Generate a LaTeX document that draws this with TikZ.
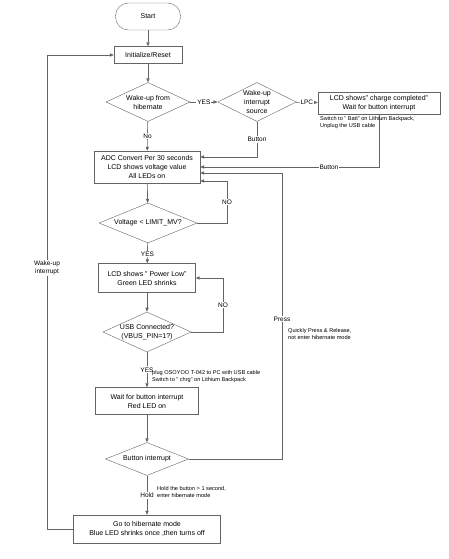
\documentclass[tikz,border=0pt]{standalone}
\usepackage{fontspec}
\setmainfont{Liberation Sans}
\usetikzlibrary{shapes.geometric,arrows.meta}
\definecolor{linegray}{RGB}{100,100,100}
\tikzset{
  proc/.style={draw=linegray,rectangle,inner sep=0pt,align=center,font=\fontsize{7}{9}\selectfont},
  cond/.style={draw=linegray,diamond,aspect=2.2,inner sep=0pt,align=center,font=\fontsize{7}{9}\selectfont},
  tag/.style={fill=white,inner sep=1pt,align=center,font=\fontsize{6.5}{8}\selectfont},
  remark/.style={anchor=north west,inner sep=0pt,align=left,font=\fontsize{5.6}{7}\selectfont},
  flow/.style={draw=linegray,line width=0.65pt,-{Triangle[length=4pt,width=3.2pt]}}
}
\begin{document}
\begin{tikzpicture}[x=1pt,y=-1pt]
\useasboundingbox (0,0) rectangle (449,559);
% boxes
\node[proc,rounded corners=13pt,minimum width=65pt,minimum height=27pt] (start) at (148,16.5) {Start};
\node[proc,minimum width=68pt,minimum height=17pt] (init) at (148,55) {Initialize/Reset};
\node[cond,minimum width=84pt,minimum height=39pt] (wake) at (148,102) {Wake-up from\\hibernate};
\node[cond,minimum width=69pt,minimum height=39pt] (src) at (257,102) {Wake-up\\interrupt\\source};
\node[proc,minimum width=122pt,minimum height=22pt] (lcd) at (379,103) {LCD shows" charge completed"\\Wait for button interrupt};
\node[proc,minimum width=106pt,minimum height=32pt] (adc) at (147,167) {ADC Convert Per 30 seconds\\LCD shows voltage value\\All LEDs on};
\node[cond,minimum width=98pt,minimum height=40pt] (volt) at (148,223) {Voltage < LIMIT\_MV?};
\node[proc,minimum width=97pt,minimum height=29pt] (low) at (147,278) {LCD shows " Power Low"\\Green LED shrinks};
\node[cond,minimum width=87pt,minimum height=33pt] (usb) at (147,332) {USB Connected?\\(VBUS\_PIN=1?)};
\node[proc,minimum width=103pt,minimum height=27pt] (wait) at (147,401) {Wait for button interrupt\\Red LED on};
\node[cond,minimum width=83pt,minimum height=33pt] (btn) at (147,459) {Button interrupt};
\node[proc,minimum width=147pt,minimum height=28pt] (hib) at (147,529) {Go to hibernate mode\\Blue LED shrinks once ,then turns off};
% corner points
\coordinate (srcdown) at (257,157);
\coordinate (lcddown) at (379,167);
\coordinate (voltright) at (227,223);
\coordinate (voltup) at (227,181);
\coordinate (usbright) at (223,332);
\coordinate (usbup) at (223,278);
\coordinate (btnright) at (282,459);
\coordinate (btnup) at (282,173);
\coordinate (hibleft) at (47,529);
\coordinate (hibup) at (47,55);
% main line
\draw[flow] (start) -- (init);
\draw[flow] (init) -- (wake);
\draw[flow] (wake) -- node[tag] {YES} (src);
\draw[flow] (src) -- node[tag] {LPC} (lcd);
\draw[flow] (wake) -- node[tag] {No} (adc);
\draw[flow] (adc) -- (volt);
\draw[flow] (volt) -- node[tag,pos=0.55] {YES} (low);
\draw[flow] (low) -- (usb);
\draw[flow] (usb) -- node[tag,pos=0.5] {YES} (wait);
\draw[flow] (wait) -- (btn);
\draw[flow] (btn) -- node[tag] {Hold} (hib);
% loops back
\draw[flow] (src.south) -- node[tag] {Button} (srcdown) -- (adc.east |- srcdown);
\draw[flow] (lcd.south -| lcddown) -- (lcddown) -- node[tag,pos=0.28] {Button} (adc.east |- lcddown);
\draw[flow] (volt.east) -- (voltright) -- node[tag] {NO} (voltup) -- (adc.east |- voltup);
\draw[flow] (usb.east) -- (usbright) -- node[tag] {NO} (usbup) -- (low.east);
\draw[flow] (btn.east) -- (btnright) -- node[tag,pos=0.49] {Press} (btnup) -- (adc.east |- btnup);
\draw[flow] (hib.west) -- (hibleft) -- node[tag,pos=0.55] {Wake-up\\interrupt} (hibup) -- (init.west);
% remarks
\node[remark] (battnote) at (320,116.5) {Switch to " Batt" on Lithium Backpack,\\Unplug the USB cable};
\node[remark] (plugnote) at (152,370.5) {plug OSOYOO T-042 to PC with USB cable\\Switch to " chrg" on Lithium Backpack};
\node[remark] (pressnote) at (288,328.5) {Quickly Press \& Release,\\not enter hibernate mode};
\node[remark] (holdnote) at (157,486.5) {Hold the button > 1 second,\\enter hibernate mode};
\end{tikzpicture}
\end{document}
